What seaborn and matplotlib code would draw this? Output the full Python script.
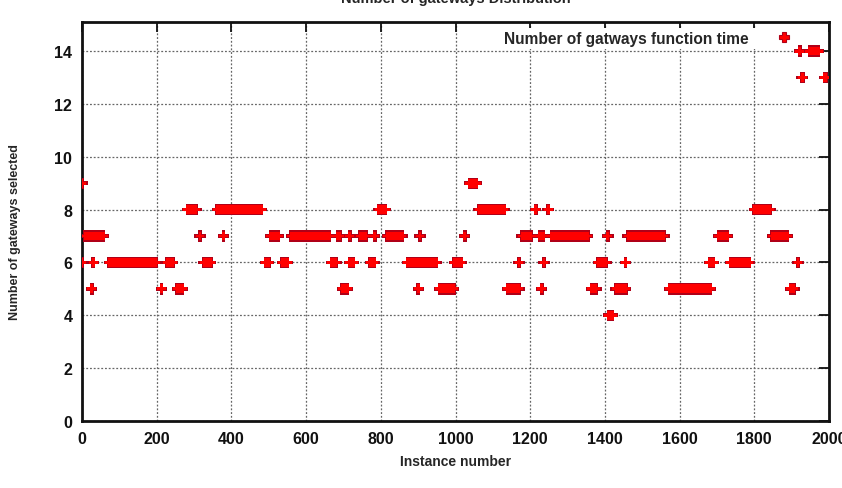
import numpy as np
import pandas as pd
import matplotlib
matplotlib.use("Agg")
import matplotlib.pyplot as plt
from matplotlib.lines import Line2D
import seaborn as sns

# Runs of consecutive instances with the same number of selected gateways
run_start = [0, 1038,
             283, 362, 795, 1063, 1215, 1248, 1800,
             8, 316, 379, 505, 560, 684, 717, 745, 784, 817, 905, 1025, 1178, 1225, 1258, 1408, 1462, 1705, 1848,
             0, 30, 73, 228, 327, 491, 536, 668, 716, 772, 872, 997, 1170, 1237, 1382, 1455, 1680, 1736, 1917,
             26, 213, 255, 697, 900, 957, 1140, 1231, 1365, 1430, 1573, 1897,
             1410,
             1928, 1988,
             1922, 1948]
run_end = [0, 1056,
           305, 480, 812, 1130, 1215, 1248, 1842,
           57, 316, 379, 526, 662, 690, 717, 760, 784, 857, 905, 1025, 1202, 1235, 1354, 1408, 1558, 1728, 1888,
           0, 30, 198, 243, 345, 500, 550, 680, 726, 782, 948, 1015, 1170, 1237, 1403, 1455, 1691, 1786, 1917,
           26, 213, 269, 710, 900, 995, 1170, 1231, 1376, 1456, 1683, 1906,
           1420,
           1930, 1992,
           1922, 1972]
run_level = [9, 9,
             8, 8, 8, 8, 8, 8, 8,
             7, 7, 7, 7, 7, 7, 7, 7, 7, 7, 7, 7, 7, 7, 7, 7, 7, 7, 7,
             6, 6, 6, 6, 6, 6, 6, 6, 6, 6, 6, 6, 6, 6, 6, 6, 6, 6, 6,
             5, 5, 5, 5, 5, 5, 5, 5, 5, 5, 5, 5,
             4,
             13, 13,
             14, 14]

x_ticks = [0, 200, 400, 600, 800, 1000, 1200, 1400, 1600, 1800, 2000]
y_ticks = [0, 2, 4, 6, 8, 10, 12, 14]

instances = np.concatenate([np.arange(s, e + 1) for s, e in zip(run_start, run_end)])
gateways = np.concatenate([np.full(e - s + 1, v) for s, e, v in zip(run_start, run_end, run_level)])
df = pd.DataFrame({"Instance number": instances, "Number of gateways selected": gateways})

sns.set_style("white")
plt.rcParams["font.family"] = ["Liberation Sans", "DejaVu Sans"]
plt.rcParams["font.weight"] = "bold"

fig = plt.figure(figsize=(8.42, 4.89), dpi=100)
ax = fig.add_axes([82 / 842, 1 - 422 / 489, (829 - 82) / 842, (422 - 23) / 489])

sns.scatterplot(data=df, x="Instance number", y="Number of gateways selected", ax=ax,
                marker="P", s=66, color="#b00018", edgecolor="none", linewidth=0, legend=False, zorder=3)
sns.scatterplot(data=df, x="Instance number", y="Number of gateways selected", ax=ax,
                marker="P", s=40, color="#ff0000", edgecolor="none", linewidth=0, legend=False, zorder=4)

ax.set_xlim(0, 2000)
ax.set_ylim(0, 15.1)
ax.set_xticks(x_ticks)
ax.set_yticks(y_ticks)
ax.set_xticklabels([str(t) for t in x_ticks], fontsize=11.5, fontweight="bold")
ax.set_yticklabels([str(t) for t in y_ticks], fontsize=11.5, fontweight="bold")
ax.tick_params(direction="in", length=7, width=1.3, top=True, right=True, pad=7, colors="#111111")
ax.grid(True, linestyle=(0, (1.5, 1.5)), color="#666666", linewidth=0.9)
ax.set_axisbelow(True)
for sp in ax.spines.values():
    sp.set_linewidth(2)
    sp.set_color("#111111")

ax.set_xlabel("")
ax.set_ylabel("")
fig.text(456 / 842, 1 - 462 / 489, "Instance number", ha="center", va="center",
         fontsize=10, fontweight="bold")
fig.text(15 / 842, 1 - 232 / 489, "Number of gateways selected", ha="center", va="center",
         rotation=90, fontsize=9, fontweight="bold")
fig.text(456 / 842, 1 + 1.5 / 489, "Number of gateways Distribution", ha="center", va="center",
         fontsize=10.5, fontweight="bold")

handle = Line2D([], [], linestyle="none", marker="P", markersize=7,
                markerfacecolor="#ff0000", markeredgecolor="#b00018", markeredgewidth=0.8)
leg = ax.legend([handle], ["Number of gatways function time"], loc="upper right",
                bbox_to_anchor=(1 - 19 / 747, 1 + 2 / 399), frameon=True, markerfirst=False,
                handletextpad=1.25, borderpad=0.2, prop={"size": 11.2, "weight": "bold"})
leg.get_frame().set_facecolor("white")
leg.get_frame().set_edgecolor("none")
leg.get_frame().set_alpha(1)
leg.set_zorder(2.5)

fig.savefig("out.png", dpi=100)
